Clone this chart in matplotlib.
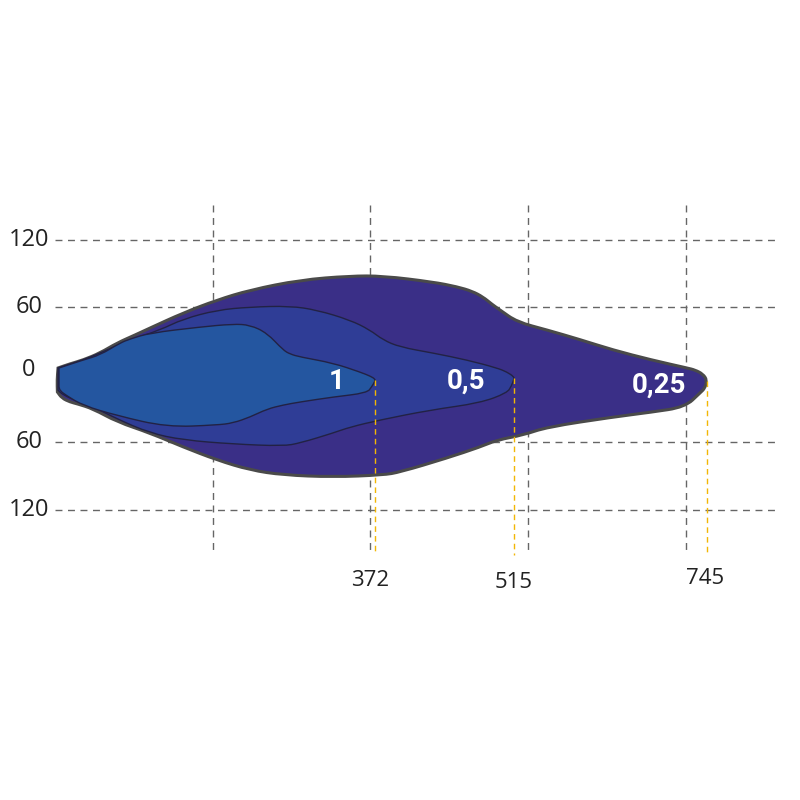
import matplotlib
matplotlib.use("Agg")
import matplotlib.pyplot as plt
from matplotlib.patches import PathPatch
from matplotlib.path import Path

# beam outlines: (distance units, width units)
outer_x = [1.9, 1.9, 9.5, 17.8, 28.5, 39.3, 50.7, 60.2, 81.2, 102.7, 123.7, 155.4, 187.1, 208.0,
           239.7, 255.0, 264.5, 271.4, 277.0, 282.2, 293.0, 312.0, 333.0, 353.8, 378.0, 400.8,
           405.9, 410.8, 413.4, 412.2, 409.0, 399.5, 378.0, 353.8, 312.0, 296.8, 280.3,
           269.5, 248.6, 218.8, 208.0, 176.3, 144.6, 123.7, 102.7, 81.2, 60.2, 39.3, 24.1,
           14.0, 9.5, 4.4, 1.5, 1.5, 1.3]
outer_y = [5.8, 5.8, 9.5, 12.9, 19.1, 28.0, 35.1, 41.3, 54.7, 66.2, 75.1, 84.0, 87.6, 87.6,
           82.2, 78.0, 74.0, 68.9, 62.5, 57.3, 46.7, 39.6, 31.0, 21.8, 13.0, 5.8,
           4.0, 0.4, -4.9, -12.0, -16.4, -28.9, -33.5, -37.8, -46.7, -53.8, -58.2,
           -64.4, -74.2, -86.7, -89.3, -91.1, -89.3, -84.9, -76.0, -64.4, -52.0, -42.0, -30.5,
           -26.0, -24.4, -21.0, -15.5, -15.5, -5.0]

mid_x = [1.9, 1.9, 17.8, 28.5, 47.6, 66.6, 81.2, 102.7, 123.7, 149.0, 166.1, 187.1, 199.7, 208.0,
         218.8, 239.7, 261.3, 280.3, 286.6, 291.0, 291.0, 289.5, 286.6, 269.5, 237.8, 206.1,
         187.1, 176.3, 155.4, 144.6, 112.9, 81.2, 60.2, 39.3, 24.1, 14.0, 5.1, 1.9, 1.9]
mid_y = [5.8, 5.8, 12.9, 19.1, 30.7, 39.6, 49.3, 57.3, 60.0, 60.9, 57.3, 48.4, 39.6, 30.7,
         24.4, 19.1, 12.9, 5.8, 2.2, -2.0, -4.0, -10.0, -16.4, -25.3, -31.6, -40.4,
         -46.7, -52.0, -60.9, -63.6, -61.8, -58.2, -52.0, -39.5, -28.5, -23.8, -18.0, -14.0, -14.0]

inner_x = [2.5, 2.5, 17.8, 28.5, 41.2, 47.6, 60.2, 91.9, 112.9, 123.7, 134.4, 144.6, 149.0,
           155.4, 176.3, 193.4, 200.0, 202.9, 202.9, 201.0, 197.8, 176.3, 155.4, 144.6, 134.4,
           123.7, 112.9, 102.7, 71.0, 39.3, 17.8, 7.6, 3.2, 2.5, 2.5]
inner_y = [5.8, 5.8, 12.9, 17.3, 28.0, 31.6, 36.9, 42.2, 44.9, 44.0, 36.9, 21.8, 18.2,
           15.6, 10.2, 2.2, -1.5, -4.0, -5.8, -10.5, -16.4, -20.0, -24.4, -27.1, -30.7,
           -37.8, -43.1, -44.9, -46.7, -36.5, -27.5, -19.0, -14.5, -11.0, -11.0]

lux_labels = ["1", "0,5", "0,25"]
lux_pos_x = [178.8, 260.6, 383.0]
lux_pos_y = [-5.8, -5.8, -9.3]

range_labels = ["372", "515", "745"]
range_x = [202.6, 291.0, 413.4]
range_top = [-4.9, -3.1, -6.0]
range_text_x = [199.7, 291.0, 412.0]
range_text_y = [-182.7, -185.0, -180.9]

width_ticks = [120, 60, 0, -60, -120]
width_labels = ["120", "60", "0", "60", "120"]
grid_rows = [120, 60, -60, -120]
grid_cols = [100, 200, 300, 400]


def smooth_outline(xs, ys):
    # closed quadratic bezier through edge midpoints, points act as control points
    pts = list(zip(xs, ys))
    n = len(pts)
    mids = [((pts[i][0] + pts[(i + 1) % n][0]) / 2, (pts[i][1] + pts[(i + 1) % n][1]) / 2)
            for i in range(n)]
    verts = [mids[-1]]
    codes = [Path.MOVETO]
    for i in range(n):
        verts += [pts[i], mids[i]]
        codes += [Path.CURVE3, Path.CURVE3]
    verts.append(mids[-1])
    codes.append(Path.CLOSEPOLY)
    return Path(verts, codes)


fig = plt.figure(figsize=(8, 8), dpi=100)
ax = fig.add_axes([0, 0, 1, 1])
ax.set_xlim(-34.9, 472.4)
ax.set_ylim(-378.2, 332.9)
ax.axis("off")

grid_kw = dict(color="#666666", lw=1.0, linestyle=(0, (5, 4)), zorder=1)
for gy in grid_rows:
    ax.plot([0, 459.7], [gy, gy], **grid_kw)
for gx in grid_cols:
    ax.plot([gx, gx], [150.7, -156.0], **grid_kw)

ax.add_patch(PathPatch(smooth_outline(outer_x, outer_y), facecolor="#3a2f87",
                       edgecolor="#4a4a4a", lw=2.2, zorder=2))
ax.add_patch(PathPatch(smooth_outline(mid_x, mid_y), facecolor="#2f3d96",
                       edgecolor="#222244", lw=1.0, zorder=3))
ax.add_patch(PathPatch(smooth_outline(inner_x, inner_y), facecolor="#2456a0",
                       edgecolor="#222244", lw=1.0, zorder=4))

for lab, x, y in zip(lux_labels, lux_pos_x, lux_pos_y):
    ax.text(x, y, lab, color="white", fontsize=20, fontweight="bold",
            family="Roboto", ha="center", va="center", zorder=6)

for lab, x, top, tx, ty in zip(range_labels, range_x, range_top, range_text_x, range_text_y):
    ax.plot([x, x], [top, -160.0], color="#f2b705", lw=1.0, linestyle=(0, (4, 3)), zorder=5)
    ax.text(tx, ty, lab, fontsize=16, family="Open Sans", color="#222222",
            ha="center", va="center")

for val, lab in zip(width_ticks, width_labels):
    ax.text(-16.5, val + (4.0 if val == 0 else 0), lab, fontsize=17, family="Open Sans",
            color="#222222", ha="center", va="center")

fig.savefig("out.png", dpi=100, facecolor="white")
